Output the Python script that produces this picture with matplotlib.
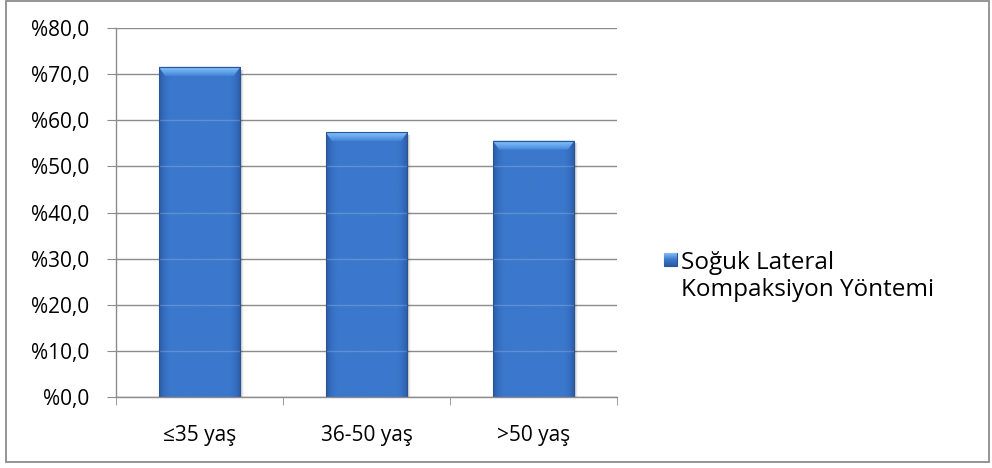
import numpy as np
import matplotlib
matplotlib.use("Agg")
import matplotlib.pyplot as plt
from matplotlib.patches import Rectangle
from matplotlib.colors import LinearSegmentedColormap

plt.rcParams['font.family'] = ['Open Sans', 'DejaVu Sans']

categories = ['≤35 yaş', '36-50 yaş', '>50 yaş']
values = [71.6, 57.4, 55.6]
series_name = 'Soğuk Lateral\nKompaksiyon Yöntemi'
yticks = [0, 10, 20, 30, 40, 50, 60, 70, 80]
ytick_labels = ['%' + f'{v:.1f}'.replace('.', ',') for v in yticks]

#=========================================================================================
fig = plt.figure(figsize=(9.92, 4.68), dpi=100)
fig.patch.set_facecolor('white')

# outer chart frame
fig.patches.append(Rectangle((0.006, 0.012), 0.991, 0.986, transform=fig.transFigure,
                             fill=False, edgecolor='#8c8c8c', linewidth=1.3))

ax = fig.add_axes([116/992, 1-397/468, (617-116)/992, (397-28)/468])
ax.set_xlim(-0.5, len(categories)-0.5)
ax.set_ylim(0, 80)

ax.set_yticks(yticks)
ax.set_yticklabels(ytick_labels, fontsize=15)
ax.yaxis.grid(True, color='#8c8c8c', linewidth=1.0)
ax.set_axisbelow(True)
ax.tick_params(axis='y', length=6.5, color='#8c8c8c', pad=13, labelcolor='black')

ax.set_xticks(np.arange(len(categories)))
ax.set_xticklabels(categories, fontsize=15)
ax.set_xticks(np.arange(len(categories)+1)-0.5, minor=True)
ax.tick_params(axis='x', which='major', length=0, pad=20)
ax.tick_params(axis='x', which='minor', length=6, color='#8c8c8c')

for side in ['top', 'right']:
    ax.spines[side].set_visible(False)
for side in ['left', 'bottom']:
    ax.spines[side].set_color('#8c8c8c')
    ax.spines[side].set_linewidth(1.0)

#---------------------------------------------------------------------------------------------
# bevelled bars: darker side strips, lighter top cap, soft shadow on the right
bar_width = 0.49
shade = LinearSegmentedColormap.from_list(
    'shade', [(0, '#2c5ca3'), (0.07, '#3670c4'), (0.14, '#3b78cc'),
              (0.86, '#3b78cc'), (0.93, '#3670c4'), (1, '#2c5ca3')])
capshade = LinearSegmentedColormap.from_list(
    'cap', [(0, '#4282d8'), (0.35, '#5f9fe8'), (0.75, '#7ab8f3'), (1, '#9fd4fb')])
grad = np.linspace(0, 1, 256).reshape(1, -1)
vgrad = np.linspace(0, 1, 64).reshape(-1, 1)
bars = ax.bar(np.arange(len(categories)), values, width=bar_width, color='#3b78cc',
              edgecolor='none', zorder=2)
for b in bars:
    x0, w, h = b.get_x(), b.get_width(), b.get_height()
    for k, a in enumerate([0.10, 0.06, 0.03]):
        ax.add_patch(Rectangle((x0+w, 0), 0.008*(k+1), h-0.6, facecolor='black',
                               edgecolor='none', alpha=a, zorder=1.9))
    im = ax.imshow(grad, cmap=shade, extent=(x0, x0+w, 0, h), aspect='auto', zorder=2.1)
    im.set_clip_path(b)
    cap = 2.0
    poly = plt.Polygon([(x0, h), (x0+w, h), (x0+w-0.04, h-cap), (x0+0.04, h-cap)],
                       closed=True, facecolor='none', edgecolor='none', zorder=2.2)
    ax.add_patch(poly)
    capim = ax.imshow(vgrad, cmap=capshade, origin='lower', extent=(x0, x0+w, h-cap, h),
                      aspect='auto', zorder=2.2)
    capim.set_clip_path(poly)
    ax.add_patch(Rectangle((x0, 0), w, h, fill=False, edgecolor='#2a5496', linewidth=0.8, zorder=2.3))
    # gridlines faintly visible through the bar
    for t in yticks[1:]:
        if t < h - cap:
            ax.plot([x0, x0+w], [t, t], color='white', alpha=0.18, linewidth=1.0, zorder=2.25)

ax.set_xlim(-0.5, len(categories)-0.5)
ax.set_ylim(0, 80)

#---------------------------------------------------------------------------------------------
# legend
key = Rectangle((664/992, 1-266/468), 13/992, 13/468, transform=fig.transFigure,
                facecolor='#3b78cc', edgecolor='#2a5496', linewidth=0.8)
fig.patches.append(key)
kim = fig.figimage(np.linspace(0, 1, 13).reshape(-1, 1)[::-1] * np.ones((1, 13)),
                   xo=664, yo=468-266, cmap=LinearSegmentedColormap.from_list(
                       'k', ['#2c5ca3', '#3b78cc', '#7fb8f2']), origin='upper', zorder=3)
fig.text(681/992, 1-272/468, series_name, fontsize=17.5, va='center_baseline', ha='left',
         linespacing=1.15, transform=fig.transFigure)

fig.savefig('out.png', dpi=100)
